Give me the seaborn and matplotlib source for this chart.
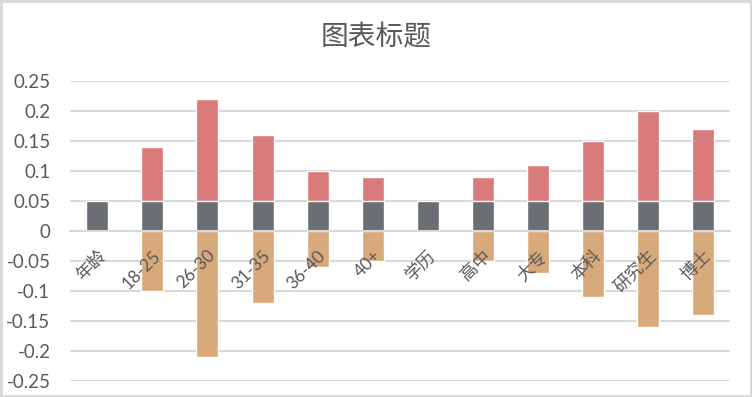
"""Stacked diverging bar chart: age / education groups."""

import matplotlib.pyplot as plt
import pandas as pd
import seaborn as sns

categories = ["年龄", "18-25", "26-30", "31-35", "36-40", "40+",
              "学历", "高中", "大专", "本科", "研究生", "博士"]
base_vals = [0.05] * 12
upper_vals = [0, 0.14, 0.22, 0.16, 0.10, 0.09, 0, 0.09, 0.11, 0.15, 0.20, 0.17]
lower_vals = [0, -0.10, -0.21, -0.12, -0.06, -0.05, 0, -0.05, -0.07, -0.11, -0.16, -0.14]
ytick_vals = [0.25, 0.2, 0.15, 0.1, 0.05, 0, -0.05, -0.1, -0.15, -0.2, -0.25]
ytick_labels = ["0.25", "0.2", "0.15", "0.1", "0.05", "0",
                "-0.05", "-0.1", "-0.15", "-0.2", "-0.25"]

GRAY = "#6B6E72"
RED = "#DA7B7B"
TAN = "#D7A97B"
GRID = "#D9D9D9"
TEXT = "#595959"

sns.set_theme(style="white")
plt.rcParams["font.family"] = ["Lato", "Noto Sans CJK SC", "DejaVu Sans"]

df = pd.DataFrame({"cat": categories, "base": base_vals,
                   "upper": upper_vals, "lower": lower_vals})

fig = plt.figure(figsize=(7.52, 3.97), dpi=100)
fig.patch.set_edgecolor(GRID)
fig.patch.set_linewidth(2.5)
ax = fig.add_axes([0.093, 0.041, 0.878, 0.756])

for col, color in [("upper", RED), ("base", GRAY), ("lower", TAN)]:
    sns.barplot(data=df, x="cat", y=col, order=categories, color=color,
                saturation=1, width=0.4, ax=ax, zorder=2)

ax.set_ylim(-0.25, 0.25)
ax.set_xlim(-0.5, len(categories) - 0.5)
ax.set_yticks(ytick_vals)
ax.set_yticklabels(ytick_labels)
ax.set_xlabel("")
ax.set_ylabel("")
ax.yaxis.grid(True, color=GRID, linewidth=1.5)
ax.set_axisbelow(True)
ax.xaxis.set_zorder(5)
for side in ["top", "right", "left"]:
    ax.spines[side].set_visible(False)
ax.spines["bottom"].set_position(("data", 0))
ax.spines["bottom"].set_color(GRID)
ax.spines["bottom"].set_linewidth(1.5)
ax.spines["bottom"].set_zorder(3)

ax.tick_params(axis="y", length=0, pad=14, labelsize=13.5, labelcolor=TEXT)
ax.tick_params(axis="x", length=0, pad=12, labelsize=12.5, labelcolor=TEXT)
for lbl in ax.get_xticklabels():
    lbl.set_rotation(45)
    lbl.set_ha("right")
    lbl.set_va("top")
    lbl.set_rotation_mode("anchor")

fig.suptitle("图表标题", y=0.907, va="center", fontsize=20, color=TEXT)

fig.savefig("out.png", dpi=100)
